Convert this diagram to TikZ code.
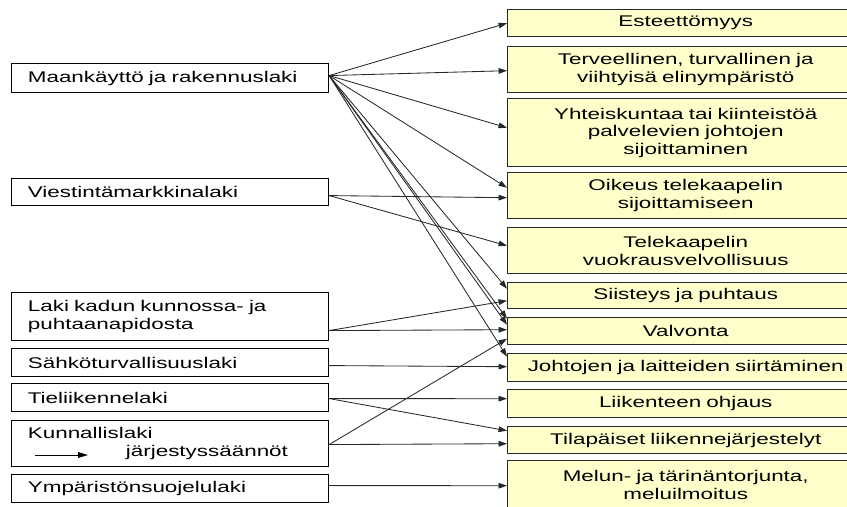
\documentclass[tikz,border=0pt]{standalone}
\usepackage{fontspec}
\setmainfont{Liberation Sans}[FakeStretch=1.45]
\usetikzlibrary{arrows.meta,calc}
\definecolor{topicyellow}{RGB}{255,255,204}
\definecolor{linegray}{RGB}{40,40,40}

\begin{document}
\begin{tikzpicture}[x=0.025cm,y=-0.025cm,
  lawnode/.style={draw=black,line width=0.8pt,anchor=north west,minimum width=7.93cm,
    text width=7.1cm,inner xsep=0.4cm,inner ysep=0pt,align=left,font=\fontsize{11}{12.5}\selectfont},
  topicnode/.style={draw=linegray,line width=1pt,fill=topicyellow,anchor=north west,minimum width=8.9cm,
    text width=8.5cm,inner xsep=0.2cm,inner ysep=0pt,align=center,font=\fontsize{11}{12.5}\selectfont},
  lawarrow/.style={-{Triangle[length=6pt,width=4pt]},line width=0.6pt,linegray}
]
  \useasboundingbox (0,0) rectangle (847,506);
  \clip (0,0) rectangle (847,506);
  % Laws
  \node[lawnode,minimum height=0.725cm] (maank) at (10.7,63) {Maankäyttö ja rakennuslaki};
  \node[lawnode,minimum height=0.675cm] (viest) at (10.7,178) {Viestintämarkkinalaki};
  \node[lawnode,minimum height=1.2cm] (laki) at (10.7,292) {Laki kadun kunnossa- ja\\puhtaanapidosta};
  \node[lawnode,minimum height=0.7cm] (sahko) at (10.7,348) {Sähköturvallisuuslaki};
  \node[lawnode,minimum height=0.7cm] (tieliik) at (10.7,383) {Tieliikennelaki};
  \node[lawnode,minimum height=1.15cm] (kunnal) at (10.7,420) {Kunnallislaki\\\hspace*{2.45cm}järjestyssäännöt};
  \node[lawnode,minimum height=0.7cm] (ymp) at (10.7,474) {Ympäristönsuojelulaki};
  \coordinate (kunA) at (35,455);
  \coordinate (kunB) at (88,455);
  \draw[-{Triangle[length=7pt,width=4pt]},line width=0.7pt] (kunA) -- (kunB);
  % Topics
  \node[topicnode,minimum height=0.675cm] (est) at (507,9) {Esteettömyys};
  \node[topicnode,minimum height=1.15cm] (terv) at (507,46) {Terveellinen, turvallinen ja\\viihtyisä elinympäristö};
  \node[topicnode,minimum height=1.7cm] (yht) at (507,98) {Yhteiskuntaa tai kiinteistöä\\palvelevien johtojen\\sijoittaminen};
  \node[topicnode,minimum height=1.15cm] (oik) at (507,172) {Oikeus telekaapelin\\sijoittamiseen};
  \node[topicnode,minimum height=1.15cm] (tele) at (507,227) {Telekaapelin\\vuokrausvelvollisuus};
  \node[topicnode,minimum height=0.65cm] (siis) at (507,282) {Siisteys ja puhtaus};
  \node[topicnode,minimum height=0.675cm] (valv) at (507,317) {Valvonta};
  \node[topicnode,minimum height=0.7cm] (johto) at (507,353) {Johtojen ja laitteiden siirtäminen};
  \node[topicnode,minimum height=0.7cm] (liik) at (507,389) {Liikenteen ohjaus};
  \node[topicnode,minimum height=0.675cm] (tila) at (507,426) {Tilapäiset liikennejärjestelyt};
  \node[topicnode,minimum height=1.2cm] (melun) at (507,460) {Melun- ja tärinäntorjunta,\\meluilmoitus};
  % Arrows
  \draw[lawarrow] ($(maank.east)+(0,-2.5)$) -- (est.west);
  \draw[lawarrow] ($(maank.east)+(0,-2.5)$) -- ($(terv.west)+(0,1)$);
  \draw[lawarrow] ($(maank.east)+(0,-2.5)$) -- ($(yht.west)+(0,-5)$);
  \draw[lawarrow] ($(maank.east)+(0,-2.5)$) -- ($(oik.west)+(0,-8)$);
  \draw[lawarrow] ($(maank.east)+(0,-2.5)$) -- ($(siis.west)+(0,-7)$);
  \draw[lawarrow] ($(maank.east)+(0,-2.5)$) -- ($(valv.west)+(0,-12.5)$);
  \draw[lawarrow] ($(maank.east)+(0,-2.5)$) -- ($(valv.west)+(0,-6.5)$);
  \draw[lawarrow] ($(maank.east)+(0,-2.5)$) -- ($(johto.west)+(0,-11)$);
  \draw[lawarrow] ($(viest.east)+(0,3.5)$) -- ($(oik.west)+(0,2)$);
  \draw[lawarrow] ($(viest.east)+(0,3.5)$) -- ($(tele.west)+(0,-5)$);
  \draw[lawarrow] ($(laki.east)+(0,14)$) -- ($(siis.west)+(0,5)$);
  \draw[lawarrow] ($(laki.east)+(0,14)$) -- ($(valv.west)+(0,-1.5)$);
  \draw[lawarrow] ($(sahko.east)+(0,3)$) -- ($(johto.west)+(0,-1)$);
  \draw[lawarrow] ($(tieliik.east)+(0,1)$) -- ($(liik.west)+(0,-5)$);
  \draw[lawarrow] ($(tieliik.east)+(0,1)$) -- ($(tila.west)+(0,-9.5)$);
  \draw[lawarrow] ($(kunnal.east)+(0,1)$) -- ($(valv.west)+(0,7.5)$);
  \draw[lawarrow] ($(kunnal.east)+(0,1)$) -- ($(tila.west)+(0,3.5)$);
  \draw[lawarrow] ($(ymp.east)+(0,-3)$) -- ($(melun.west)+(0,1)$);
\end{tikzpicture}
\end{document}
